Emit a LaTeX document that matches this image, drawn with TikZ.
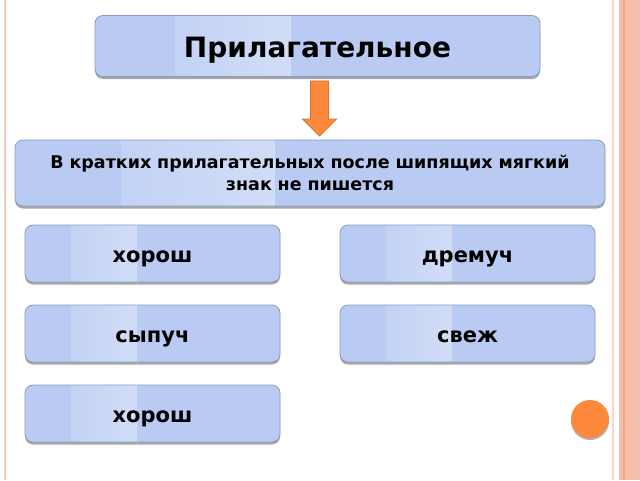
\documentclass[tikz,border=0pt]{standalone}
\usepackage{fontspec}
\setmainfont{DejaVu Sans}
\usetikzlibrary{shapes.arrows,shadows,calc}
\definecolor{boxfill}{RGB}{185,203,243}
\definecolor{boxline}{RGB}{140,155,190}
\definecolor{orangefill}{RGB}{253,138,60}
\definecolor{orangeline}{RGB}{226,112,40}
\definecolor{edgepink}{RGB}{251,198,180}
\definecolor{bandpink}{RGB}{244,190,170}
\definecolor{bandline}{RGB}{249,162,126}
\begin{document}
\begin{tikzpicture}[x=1pt,y=-1pt,
  blok/.style={draw=boxline,line width=0.8pt,fill=boxfill,rounded corners=8pt,
    align=center,inner sep=0pt,
    drop shadow={shadow xshift=0pt,shadow yshift=-2.5pt,fill=black,opacity=.35},
    path picture={\shade[sharp corners,left color=boxfill,right color=boxfill,middle color=white!40!boxfill]
      ($(path picture bounding box.south west)!0.18!(path picture bounding box.south east)$)
      rectangle ($(path picture bounding box.north west)!0.44!(path picture bounding box.north east)$);}},
  slowo/.style={blok,minimum width=255pt,minimum height=57pt,text height=17pt,text depth=0pt,
    font=\bfseries\fontsize{21}{24}\selectfont},
  strzalka/.style={single arrow,shape border rotate=270,draw=orangeline,fill=orangefill,
    line width=0.8pt,minimum height=55pt,single arrow head extend=8pt,
    inner sep=8.5pt}]
\pgfmathsetmacro{\xl}{152.5}
\pgfmathsetmacro{\xr}{467.5}
%
\fill[white](0,0) rectangle (640,480);
\useasboundingbox(0,0) rectangle (640,480);
%
\draw[edgepink,line width=2pt](5,0)--(5,480);
\draw[edgepink!70,line width=1.5pt](613,0)--(613,480);
\fill[bandpink](619,0) rectangle (640,480);
\draw[bandline,line width=2pt](624,0)--(624,480);
%
\node[blok,minimum width=445pt,minimum height=61pt,text height=22pt,text depth=0pt,
  font=\bfseries\fontsize{28}{32}\selectfont](tytul) at (317.5,46){Прилагательное};
\node[blok,minimum width=590pt,minimum height=66pt,text width=570pt,
  font=\bfseries\fontsize{17.5}{22}\selectfont](pravilo) at (310,173)
  {В кратких прилагательных после шипящих мягкий\\знак не пишется};
\node[strzalka](strzalka) at (319.5,104){};
%
\node[slowo](w1) at (\xl,253.5){хорош};
\node[slowo](w2) at (\xr,253.5){дремуч};
\node[slowo](w3) at (\xl,333.5){сыпуч};
\node[slowo](w4) at (\xr,333.5){свеж};
\node[slowo](w5) at (\xl,413.5){хорош};
%
\node[circle,fill=orangefill,minimum size=38pt,
  drop shadow={shadow xshift=0pt,shadow yshift=-2pt,fill=black,opacity=.3}](kropka) at (590,419){};
\end{tikzpicture}
\end{document}
